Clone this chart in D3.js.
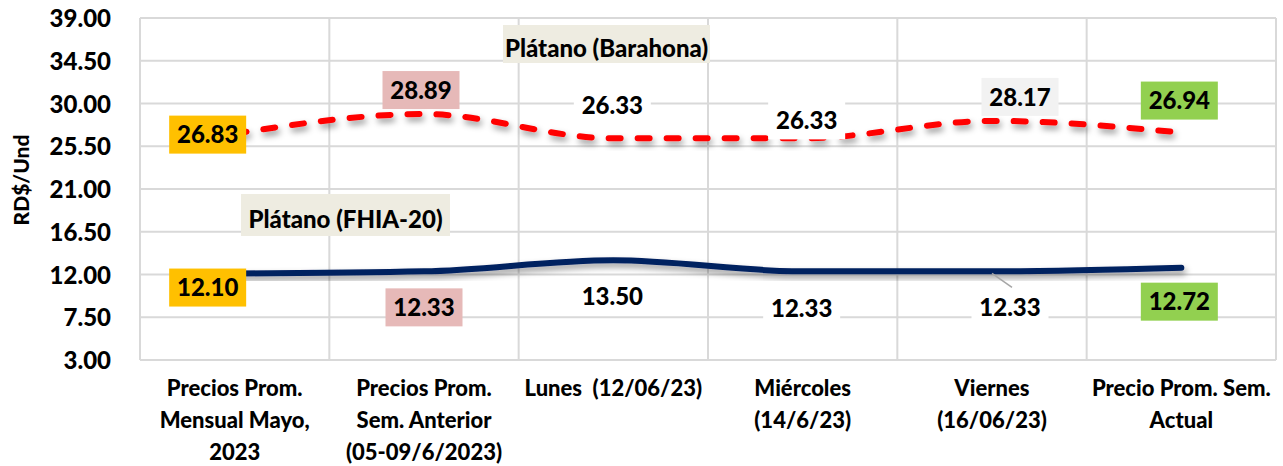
<!DOCTYPE html>
<html>
<head>
<meta charset="utf-8">
<script src="https://cdn.jsdelivr.net/npm/d3@7"></script>
<style>
  body { margin: 0; background: #fff; }
  text { font-family: Lato, "Open Sans", sans-serif; font-weight: 900; fill: #000; white-space: pre; }
</style>
</head>
<body>
<script>
// chart data
var categories = [
  ["Precios Prom.", "Mensual Mayo,", "2023"],
  ["Precios Prom.", "Sem. Anterior", "(05-09/6/2023)"],
  ["Lunes  (12/06/23)"],
  ["Miércoles", "(14/6/23)"],
  ["Viernes", "(16/06/23)"],
  ["Precio Prom. Sem.", "Actual"]
];
var barahona = [26.83, 28.89, 26.33, 26.33, 28.17, 26.94];
var fhia = [12.10, 12.33, 13.50, 12.33, 12.33, 12.72];
var yTicks = [3.00, 7.50, 12.00, 16.50, 21.00, 25.50, 30.00, 34.50, 39.00];
var seriesNames = ["Plátano (Barahona)", "Plátano (FHIA-20)"];

var w = 1283, h = 466;
var plotLeft = 140, plotRight = 1276, plotTop = 18, plotBottom = 360;

var svg = d3.select("body").append("svg")
  .attr("width", w)
  .attr("height", h);

var defs = svg.append("defs");
var f = defs.append("filter").attr("id", "shadow")
  .attr("x", "-5%").attr("y", "-50%").attr("width", "110%").attr("height", "200%");
f.append("feDropShadow")
  .attr("dx", 2).attr("dy", 4).attr("stdDeviation", 3)
  .attr("flood-color", "#000").attr("flood-opacity", 0.4);

var x = d3.scaleBand()
  .domain(d3.range(categories.length))
  .range([plotLeft, plotRight]);

var y = d3.scaleLinear()
  .domain([3, 39])
  .range([plotBottom, plotTop]);

var cx = function(i) { return x(i) + x.bandwidth() / 2; };

// horizontal grid
svg.append("g")
  .selectAll("line")
  .data(yTicks)
  .enter().append("line")
  .attr("x1", plotLeft).attr("x2", plotRight)
  .attr("y1", function(d) { return y(d); })
  .attr("y2", function(d) { return y(d); })
  .style("stroke", "#d9d9d9")
  .style("stroke-width", 2);

// vertical grid (band edges)
svg.append("g")
  .selectAll("line")
  .data(d3.range(categories.length + 1))
  .enter().append("line")
  .attr("x1", function(i) { return plotLeft + i * x.bandwidth(); })
  .attr("x2", function(i) { return plotLeft + i * x.bandwidth(); })
  .attr("y1", plotTop).attr("y2", plotBottom)
  .style("stroke", "#d9d9d9")
  .style("stroke-width", 2);

// y axis labels
var yAxis = d3.axisLeft(y).tickValues(yTicks).tickFormat(d3.format(".2f")).tickSize(0).tickPadding(0);
var ya = svg.append("g").attr("transform", "translate(111,0)").call(yAxis);
ya.select(".domain").remove();
ya.selectAll("text")
  .style("font-size", "24px")
  .style("font-family", "Lato, sans-serif")
  .style("font-weight", "900")
  .attr("dy", "0.36em");

svg.append("text")
  .attr("transform", "translate(29,180) rotate(-90)")
  .attr("text-anchor", "middle")
  .style("font-size", "21px")
  .text("RD$/Und");

// x labels
var xl = svg.append("g").selectAll("text")
  .data(categories)
  .enter().append("text")
  .attr("text-anchor", "middle")
  .style("font-size", "22px")
  .attr("x", function(d, i) { return cx(i); })
  .attr("y", 396);
xl.selectAll("tspan")
  .data(function(d) { return d; })
  .enter().append("tspan")
  .attr("x", function() { return d3.select(this.parentNode).attr("x"); })
  .attr("dy", function(d, j) { return j === 0 ? 0 : 32; })
  .text(function(d) { return d; });

// lines
var line = d3.line()
  .x(function(d, i) { return cx(i); })
  .y(function(d) { return y(d); })
  .curve(d3.curveMonotoneX);

svg.append("path")
  .datum(fhia)
  .attr("d", line)
  .attr("filter", "url(#shadow)")
  .style("fill", "none")
  .style("stroke", "#002060")
  .style("stroke-width", 6)
  .style("stroke-linecap", "round");

svg.append("path")
  .datum(barahona)
  .attr("d", line)
  .attr("filter", "url(#shadow)")
  .style("fill", "none")
  .style("stroke", "#ff0000")
  .style("stroke-width", 6)
  .style("stroke-dasharray", "12,17")
  .style("stroke-linecap", "round");

// leader line for Viernes FHIA label
svg.append("line")
  .attr("x1", cx(4)).attr("y1", y(fhia[4]) + 2)
  .attr("x2", cx(4) + 20).attr("y2", y(fhia[4]) + 16)
  .style("stroke", "#a6a6a6").style("stroke-width", 1.5);

// data labels
var redFill = ["#ffc000", "#e6b9b8", "#ffffff", "#ffffff", "#f2f2f2", "#92d050"];
var blueFill = ["#ffc000", "#e6b9b8", "#ffffff", "#ffffff", "#ffffff", "#92d050"];
var redOff = [[-27, 1], [-3, -24], [-1, -33], [4, -18], [28, -24], [-2, -32]];
var blueOff = [[-27, 14], [0, 36], [-1, 36], [-1, 37], [18, 36], [-2, 34]];

function labels(vals, fills, offs) {
  var g = svg.append("g").selectAll("g")
    .data(vals)
    .enter().append("g")
    .attr("transform", function(d, i) {
      return "translate(" + (cx(i) + offs[i][0]) + "," + (y(d) + offs[i][1]) + ")";
    });
  g.append("rect")
    .attr("x", -38.5).attr("y", -19).attr("width", 77).attr("height", 38)
    .style("fill", function(d, i) { return fills[i]; });
  g.append("text")
    .attr("text-anchor", "middle")
    .attr("dy", "0.36em")
    .style("font-size", "24px")
    .text(function(d) { return d3.format(".2f")(d); });
}
labels(barahona, redFill, redOff);
labels(fhia, blueFill, blueOff);

// series name labels
function seriesLabel(name, bx, by, bw, bh) {
  svg.append("rect")
    .attr("x", bx).attr("y", by).attr("width", bw).attr("height", bh)
    .style("fill", "#eeece1");
  svg.append("text")
    .attr("x", bx + bw / 2).attr("y", by + bh / 2)
    .attr("dy", "0.55em")
    .attr("text-anchor", "middle")
    .style("font-size", "24px")
    .text(name);
}
seriesLabel(seriesNames[0], 503, 25, 207, 38);
seriesLabel(seriesNames[1], 241, 194, 209, 42);
</script>
</body>
</html>
